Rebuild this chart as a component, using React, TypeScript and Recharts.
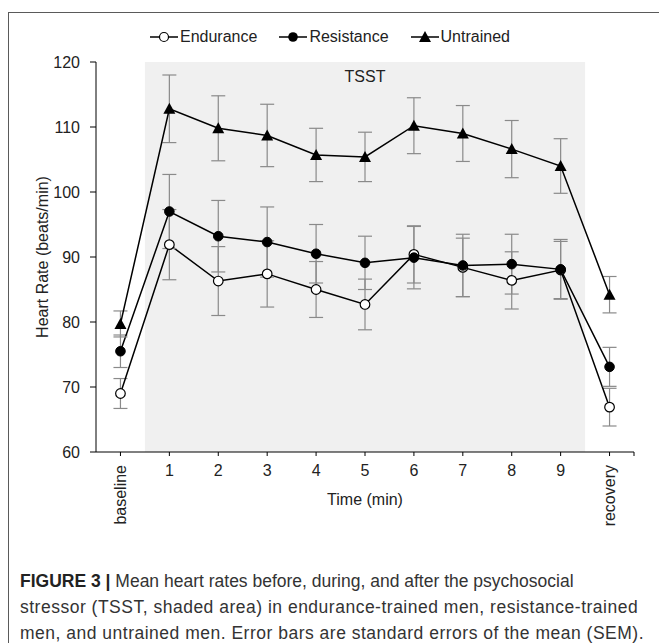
import { ErrorBar, Line, LineChart, ReferenceArea, XAxis, YAxis } from 'recharts';

const FONT = '"Liberation Sans", Arial, sans-serif';

const timeLabels = ['baseline', '1', '2', '3', '4', '5', '6', '7', '8', '9', 'recovery'];
const endurance = [69.0, 91.9, 86.3, 87.4, 85.0, 82.7, 90.4, 88.4, 86.4, 88.0, 66.9];
const enduranceSem = [2.3, 5.4, 5.3, 5.1, 4.3, 3.9, 4.4, 4.5, 4.4, 4.4, 2.9];
const resistance = [75.5, 97.0, 93.2, 92.3, 90.5, 89.1, 89.9, 88.7, 88.9, 88.1, 73.1];
const resistanceSem = [2.5, 5.7, 5.5, 5.4, 4.5, 4.1, 4.8, 4.8, 4.6, 4.6, 3.0];
const untrained = [79.7, 112.8, 109.8, 108.7, 105.7, 105.4, 110.2, 109.0, 106.6, 104.0, 84.2];
const untrainedSem = [2.0, 5.2, 5.0, 4.8, 4.1, 3.8, 4.3, 4.3, 4.4, 4.2, 2.8];
const yTicks = [60, 70, 80, 90, 100, 110, 120];

const data = timeLabels.map((_, i) => ({
  t: i,
  endurance: endurance[i],
  enduranceSem: enduranceSem[i],
  resistance: resistance[i],
  resistanceSem: resistanceSem[i],
  untrained: untrained[i],
  untrainedSem: untrainedSem[i],
}));

const xTicks = [...timeLabels.map((_, i) => i), timeLabels.length - 0.5];

function TimeTick({ x, y, payload }: any) {
  const i = payload.value;
  const label = timeLabels[i];
  if (label === undefined) return <g />;
  const style = { fontFamily: FONT, fontSize: 16, fill: '#222' };
  if (i === 0 || i === timeLabels.length - 1) {
    return (
      <text x={x} y={y} dy="0.35em" textAnchor="end" transform={`rotate(-90 ${x} ${y})`} style={style}>
        {label}
      </text>
    );
  }
  return (
    <text x={x} y={y} dy="0.71em" textAnchor="middle" style={style}>
      {label}
    </text>
  );
}

function TriangleDot({ cx, cy, index }: any) {
  if (cx == null || cy == null) return <g key={index} />;
  return <path key={index} d={`M${cx},${cy - 6} L${cx + 6},${cy + 5} L${cx - 6},${cy + 5} Z`} fill="#000" />;
}

function LegendIcon({ kind }: { kind: 'open' | 'filled' | 'triangle' }) {
  return (
    <svg width={28} height={14} style={{ display: 'block' }}>
      <line x1={0} y1={7} x2={28} y2={7} stroke="#000" strokeWidth={1.5} />
      {kind === 'open' && <circle cx={14} cy={7} r={4.5} fill="#fff" stroke="#000" strokeWidth={1.2} />}
      {kind === 'filled' && <circle cx={14} cy={7} r={4.8} fill="#000" />}
      {kind === 'triangle' && <path d="M14,1 L20,12 L8,12 Z" fill="#000" />}
    </svg>
  );
}

const legendItems: { name: string; kind: 'open' | 'filled' | 'triangle' }[] = [
  { name: 'Endurance', kind: 'open' },
  { name: 'Resistance', kind: 'filled' },
  { name: 'Untrained', kind: 'triangle' },
];

export default function App() {
  const errStyle = { stroke: '#8a8a8a', strokeWidth: 1.2, width: 7 };
  return (
    <div style={{ position: 'absolute', left: 0, top: 0, width: 659, height: 643, background: '#fff', fontFamily: FONT, overflow: 'hidden' }}>
      <div style={{ position: 'absolute', left: 8, top: 12, width: 660, height: 640, borderTop: '1.5px solid #5a5a5a', borderLeft: '1.5px solid #5a5a5a' }} />
      <div style={{ position: 'absolute', left: 0, top: 0 }}>
        <LineChart width={659} height={532} data={data} margin={{ top: 62, right: 25, left: 0, bottom: 0 }}>
          <ReferenceArea
            x1={0.5}
            x2={9.5}
            y1={60}
            y2={120}
            fill="#f0f0f0"
            fillOpacity={1}
            stroke="none"
            label={{ value: 'TSST', position: 'insideTop', offset: 9, fontSize: 16, fill: '#222', fontFamily: FONT }}
          />
          <XAxis
            dataKey="t"
            type="number"
            domain={[-0.5, 10.5]}
            ticks={xTicks}
            interval={0}
            height={80}
            tick={<TimeTick />}
            tickSize={4}
            tickMargin={9}
            stroke="#000"
            label={{ value: 'Time (min)', position: 'insideBottom', offset: 27, fontSize: 16, fill: '#222', fontFamily: FONT }}
          />
          <YAxis
            type="number"
            domain={[60, 120]}
            ticks={yTicks}
            interval={0}
            width={96}
            tickSize={6}
            tickMargin={10}
            stroke="#000"
            tick={{ fontSize: 16, fill: '#222', fontFamily: FONT }}
            label={{
              value: 'Heart Rate (beats/min)',
              angle: -90,
              position: 'insideLeft',
              offset: 42,
              fontSize: 16,
              fill: '#222',
              fontFamily: FONT,
              style: { textAnchor: 'middle' },
            }}
          />
          <Line
            dataKey="endurance"
            stroke="#000"
            strokeWidth={1.5}
            isAnimationActive={false}
            dot={{ r: 4.8, fill: '#fff', stroke: '#000', strokeWidth: 1.2 }}
          >
            <ErrorBar dataKey="enduranceSem" direction="y" {...errStyle} />
          </Line>
          <Line
            dataKey="resistance"
            stroke="#000"
            strokeWidth={1.5}
            isAnimationActive={false}
            dot={{ r: 4.8, fill: '#000', stroke: '#000', strokeWidth: 1 }}
          >
            <ErrorBar dataKey="resistanceSem" direction="y" {...errStyle} />
          </Line>
          <Line dataKey="untrained" stroke="#000" strokeWidth={1.5} isAnimationActive={false} dot={<TriangleDot />}>
            <ErrorBar dataKey="untrainedSem" direction="y" {...errStyle} />
          </Line>
        </LineChart>
      </div>
      <div style={{ position: 'absolute', left: 150, top: 28, display: 'flex', alignItems: 'center', fontSize: 16, color: '#222' }}>
        {legendItems.map((item, i) => (
          <span key={item.name} style={{ display: 'flex', alignItems: 'center', marginLeft: i === 0 ? 0 : 22 }}>
            <LegendIcon kind={item.kind} />
            <span style={{ marginLeft: 2 }}>{item.name}</span>
          </span>
        ))}
      </div>
      <div style={{ position: 'absolute', left: 20, top: 568, fontSize: 17.5, lineHeight: '26px', color: '#333', whiteSpace: 'nowrap' }}>
        <div>
          <b style={{ color: '#222' }}>FIGURE 3 |</b> Mean heart rates before, during, and after the psychosocial
        </div>
        <div style={{ letterSpacing: 0.5 }}>stressor (TSST, shaded area) in endurance-trained men, resistance-trained</div>
        <div style={{ letterSpacing: 0.5 }}>men, and untrained men. Error bars are standard errors of the mean (SEM).</div>
      </div>
    </div>
  );
}
